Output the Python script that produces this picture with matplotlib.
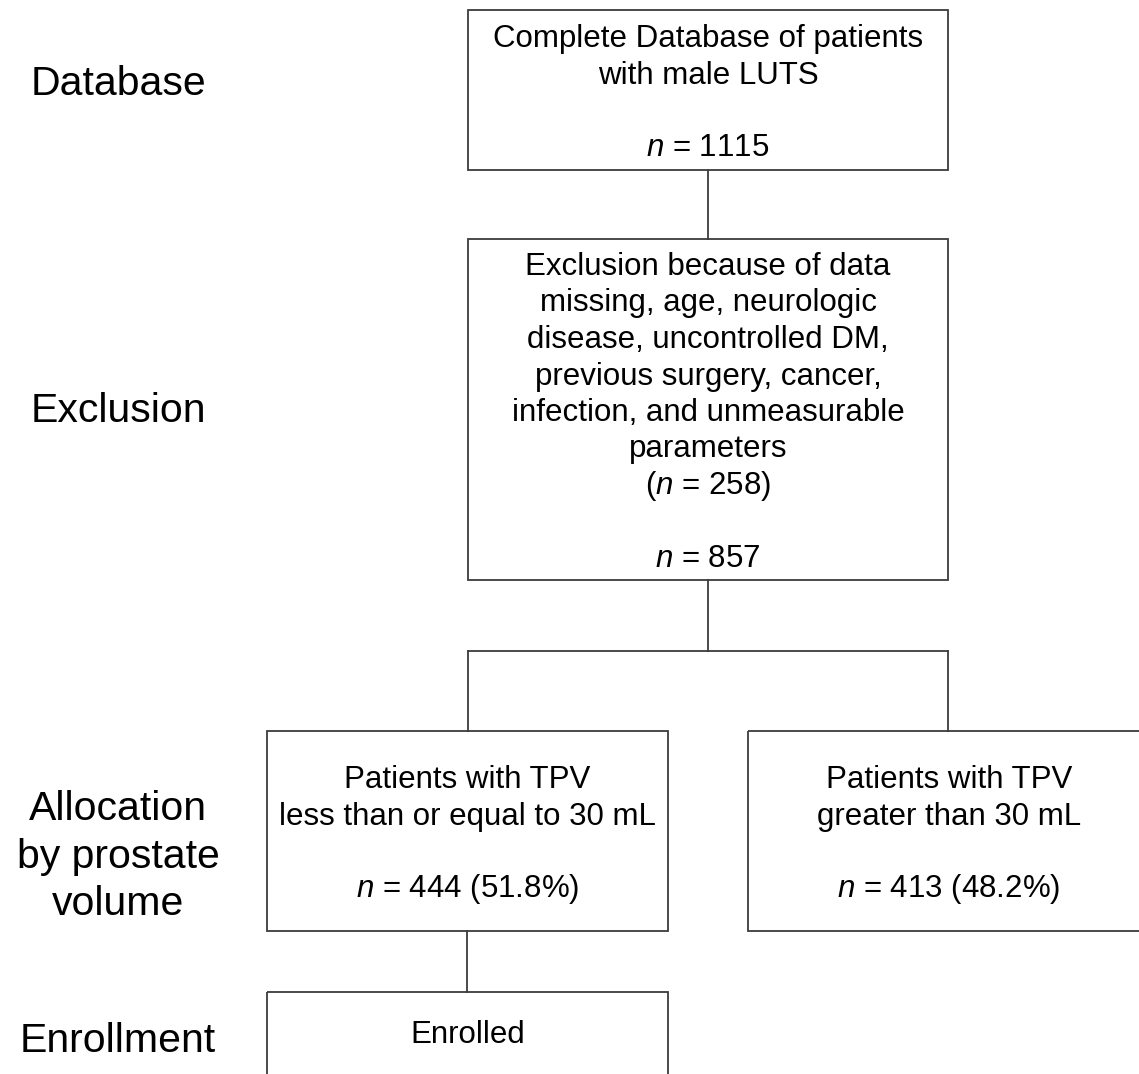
import matplotlib.pyplot as plt
from matplotlib.patches import Rectangle

plt.rcParams["font.family"] = ["Liberation Sans", "DejaVu Sans"]
plt.rcParams["mathtext.fontset"] = "custom"
plt.rcParams["mathtext.rm"] = "Liberation Sans"
plt.rcParams["mathtext.it"] = "Liberation Sans:italic"

# stage labels on the left
STAGES = ["Database", "Exclusion", "Allocation\nby prostate\nvolume", "Enrollment"]

# patient counts
N_TOTAL = 1115
N_EXCLUDED = 258
N_INCLUDED = 857
N_GROUPS = [444, 413]
PCT_GROUPS = [51.8, 48.2]

BOX_TEXT = [
    ["Complete Database of patients", "with male LUTS", "", f"$n$ = {N_TOTAL}"],
    ["Exclusion because of data", "missing, age, neurologic",
     "disease, uncontrolled DM,", "previous surgery, cancer,",
     "infection, and unmeasurable", "parameters", f"($n$ = {N_EXCLUDED})",
     "", f"$n$ = {N_INCLUDED}"],
    ["Patients with TPV", "less than or equal to 30 mL", "",
     f"$n$ = {N_GROUPS[0]} ({PCT_GROUPS[0]}%)"],
    ["Patients with TPV", "greater than 30 mL", "",
     f"$n$ = {N_GROUPS[1]} ({PCT_GROUPS[1]}%)"],
    ["Enrolled"],
]

# layout in pixels (x0, y0, x1, y1, first baseline)
BOXES = [
    (468, 10, 948, 170, 47),
    (468, 239, 948, 580, 275),
    (267, 731, 668, 931, 788),
    (748, 731, 1150, 931, 788),
    (267, 992, 668, 1100, 1043),
]
LABEL_Y = [95, 422, 820, 1052]
LINE_C = "#3c3c3c"


def draw_box(ax, box, lines):
    x0, y0, x1, y1, base = box
    ax.add_patch(Rectangle((x0, y0), x1 - x0, y1 - y0, fill=False,
                           edgecolor=LINE_C, linewidth=1.3))
    for i, line in enumerate(lines):
        if line:
            ax.text((x0 + x1) / 2, base + i * 36.5, line, ha="center",
                    va="baseline", fontsize=22.5)


def main() -> None:
    fig = plt.figure(figsize=(11.39, 10.74), dpi=100)
    ax = fig.add_axes([0, 0, 1, 1])
    ax.set_xlim(0, 1139)
    ax.set_ylim(1074, 0)
    ax.axis("off")

    for box, lines in zip(BOXES, BOX_TEXT):
        draw_box(ax, box, lines)

    # connectors
    seg = dict(color=LINE_C, linewidth=1.3)
    ax.plot([708, 708], [170, 239], **seg)
    ax.plot([708, 708], [580, 651], **seg)
    ax.plot([468, 948], [651, 651], **seg)
    ax.plot([468, 468], [651, 731], **seg)
    ax.plot([948, 948], [651, 731], **seg)
    ax.plot([467, 467], [931, 992], **seg)

    for label, y in zip(STAGES, LABEL_Y):
        for j, part in enumerate(label.split("\n")):
            ax.text(118, y + j * 47.5, part, ha="center", va="baseline",
                    fontsize=29.5)

    fig.savefig("out.png", dpi=100)


if __name__ == "__main__":
    main()
